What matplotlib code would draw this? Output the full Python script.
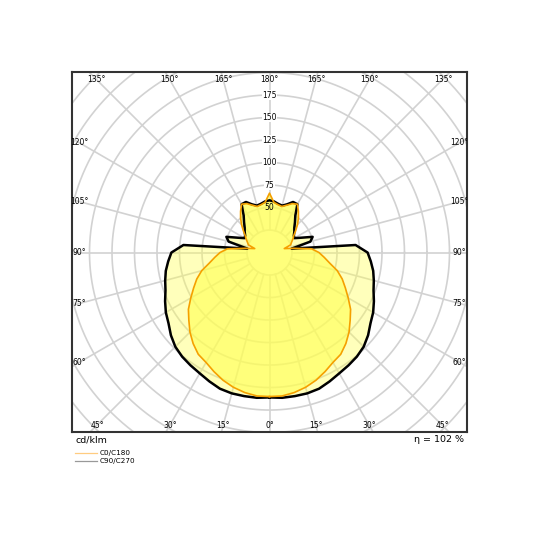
import numpy as np
import matplotlib
matplotlib.use("Agg")
import matplotlib.pyplot as plt

# luminous intensity, cd/klm, gamma 0..180 in 5 deg steps
gamma = list(range(0, 185, 5))
c0_c180 = [160, 160, 158, 155, 151, 146, 141, 138, 132, 125, 117, 110, 101, 93, 86, 78, 68, 61, 55,
           47, 27, 17, 25, 27, 30, 33, 38, 44, 50, 56, 62, 60, 56, 53, 54, 56, 66]
c90_c270 = [161, 162, 162, 162, 161, 158, 155, 153, 151, 148, 143, 137, 133, 128, 123, 120, 117, 113, 109,
            96, 25, 47, 51, 39, 32, 33, 36, 39, 44, 50, 62, 62, 57, 54, 55, 57, 58]
ring_labels = [50, 75, 100, 125, 150, 175]
bottom_angles = [-45, -30, -15, 0, 15, 30, 45]
top_angles = [135, 150, 165, 180, 165, 150, 135]
side_angles = [60, 75, 90, 105, 120]
efficiency = 102


def outline(vals):
    g = np.radians(gamma)
    r = np.array(vals, dtype=float)
    xr, yr = r * np.sin(g), -r * np.cos(g)
    # right half C0 / C90, left half mirrored C180 / C270
    x = np.concatenate([xr, -xr[::-1]])
    y = np.concatenate([yr, yr[::-1]])
    return x, y


fig = plt.figure(figsize=(5.4, 5.4), dpi=100)
ax = fig.add_axes([72 / 540, 108 / 540, 395 / 540, 360 / 540])
ax.set_xlim(-219.4, 219.4)
ax.set_ylim(-199.4, 200.6)
ax.set_aspect("equal")
ax.set_xticks([])
ax.set_yticks([])
for s in ax.spines.values():
    s.set_color("#333333")
    s.set_linewidth(1.5)

# polar grid
t = np.linspace(0, 2 * np.pi, 400)
for rr in range(25, 325, 25):
    ax.plot(rr * np.cos(t), rr * np.sin(t), color="#d2d2d2", lw=1.2, zorder=1)
for a in range(0, 360, 15):
    ar = np.radians(a)
    ax.plot([25 * np.sin(ar), 400 * np.sin(ar)], [-25 * np.cos(ar), -400 * np.cos(ar)],
            color="#d2d2d2", lw=1.2, zorder=1)

# angle labels along the frame
yb, yt, xs = -191.7, 192.8, 211
for a in bottom_angles:
    ax.text(yb * -np.tan(np.radians(a)) * -1, yb, f"{abs(a)}°", ha="center", va="center",
            fontsize=5.5, clip_on=True)
for i, a in enumerate(top_angles):
    sign = -1 if i < 3 else 1
    ax.text(sign * yt * np.tan(np.radians(180 - a)), yt, f"{a}°", ha="center", va="center",
            fontsize=5.5, clip_on=True)
for a in side_angles:
    y = -xs * np.cos(np.radians(a)) / np.sin(np.radians(a))
    for sx in (-1, 1):
        ax.text(sx * xs, y, f"{a}°", ha="center", va="center", fontsize=5.5, clip_on=True)

# curves
xb, ybk = outline(c90_c270)
xo, yo = outline(c0_c180)
ax.fill(xb, ybk, color="#ffff55", alpha=0.4, lw=0, zorder=3)
ax.fill(xo, yo, color="#ffff55", alpha=0.62, lw=0, zorder=3)
ax.plot(xb, ybk, color="black", lw=1.8, zorder=4)
ax.plot(xo, yo, color="#f5a000", lw=1.2, zorder=5)

# ring values on top
for v in ring_labels:
    box = None if v == 50 else dict(facecolor="white", edgecolor="none", pad=0.3)
    ax.text(0, v, str(v), ha="center", va="center", fontsize=5.5, zorder=6, bbox=box)

# footer texts and legend
fig.text(76 / 540, 1 - 440 / 540, "cd/klm", fontsize=6.8, ha="left", va="center")
fig.text(464 / 540, 1 - 440 / 540, f"η = {efficiency} %", fontsize=6.8, ha="right", va="center")
fig.lines.append(plt.Line2D([75 / 540, 97 / 540], [1 - 453 / 540] * 2, color="#ffcc80", lw=0.9,
                            transform=fig.transFigure))
fig.lines.append(plt.Line2D([75 / 540, 97 / 540], [1 - 461 / 540] * 2, color="#999999", lw=0.9,
                            transform=fig.transFigure))
fig.text(100 / 540, 1 - 453 / 540, "C0/C180", fontsize=5.2, ha="left", va="center")
fig.text(100 / 540, 1 - 461 / 540, "C90/C270", fontsize=5.2, ha="left", va="center")

fig.savefig("out.png", dpi=100, facecolor="white")
